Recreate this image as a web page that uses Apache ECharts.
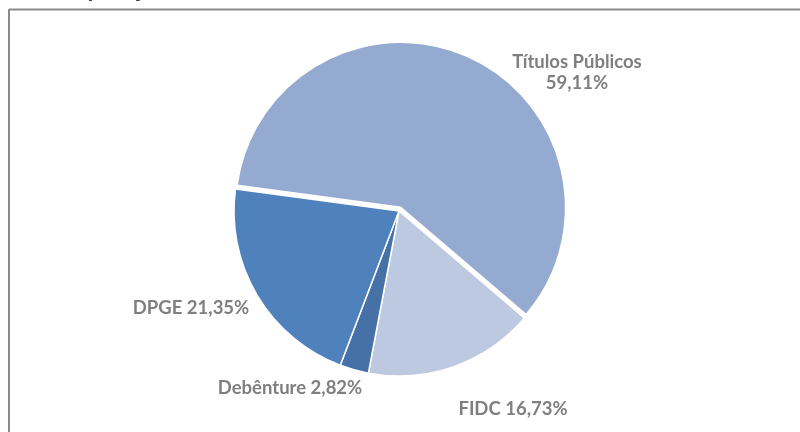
<!DOCTYPE html>
<html>
<head>
<meta charset="utf-8">
<script src="https://cdn.jsdelivr.net/npm/echarts@6/dist/echarts.min.js"></script>
<style>
  html, body { margin: 0; padding: 0; background: #fff; }
  #chart { width: 800px; height: 432px; }
</style>
</head>
<body>
<div id="chart"></div>
<script>
// Portfolio composition by asset type (%)
const categories = ['Títulos Públicos', 'FIDC', 'Debênture', 'DPGE'];
const shares = [59.11, 16.73, 2.82, 21.35];
const sliceColors = ['#95aad1', '#bdc9e1', '#4571a6', '#4f81bd'];
// Label anchors (text centre) for each slice
const labelX = [577, 513, 290, 191];
const labelY = [73, 409, 388, 308];

const fmt = v => v.toFixed(2).replace('.', ',') + '%';
const labelFont = { color: '#7f7f7f', family: 'Lato', size: 18.5 };

const chart = echarts.init(document.getElementById('chart'), null, { renderer: 'canvas' });

chart.setOption({
  animation: false,
  graphic: [
    {
      type: 'text',
      left: 38,
      top: -23,
      style: { text: 'Composição', font: 'bold 24px Lato', fill: '#404040' }
    },
    {
      type: 'line',
      shape: { x1: 9, y1: 9.5, x2: 800, y2: 9.5 },
      style: { stroke: '#8a8a8a', lineWidth: 2 }
    },
    {
      type: 'line',
      shape: { x1: 9, y1: 9, x2: 9, y2: 432 },
      style: { stroke: '#8a8a8a', lineWidth: 2 }
    },
    // Label of the pulled-out slice (selected state keeps its own label layout)
    {
      type: 'text',
      x: labelX[0],
      y: labelY[0],
      style: {
        text: categories[0] + '\n' + fmt(shares[0]),
        fill: labelFont.color,
        font: 'bold ' + labelFont.size + 'px ' + labelFont.family,
        lineHeight: 21,
        align: 'center',
        verticalAlign: 'middle'
      }
    }
  ],
  series: [{
    type: 'pie',
    center: [399, 211],
    radius: 165,
    startAngle: 172.3,
    clockwise: true,
    selectedMode: 'single',
    selectedOffset: 4,
    avoidLabelOverlap: false,
    emphasis: { disabled: true },
    select: {
      itemStyle: { borderColor: '#fff', borderWidth: 1.5 },
      label: { show: false }
    },
    itemStyle: { borderColor: '#fff', borderWidth: 1.5 },
    label: {
      show: true,
      position: 'outside',
      color: labelFont.color,
      fontFamily: labelFont.family,
      fontWeight: 'bold',
      fontSize: labelFont.size,
      formatter: p => p.name + ' ' + fmt(p.value)
    },
    labelLine: { show: false },
    labelLayout: p => ({
      x: labelX[p.dataIndex],
      y: labelY[p.dataIndex],
      align: 'center',
      verticalAlign: 'middle'
    }),
    data: categories.map((c, i) => ({
      name: c,
      value: shares[i],
      selected: i === 0,
      label: i === 0 ? { show: false } : undefined,
      itemStyle: { color: sliceColors[i] }
    }))
  }]
});
</script>
</body>
</html>
